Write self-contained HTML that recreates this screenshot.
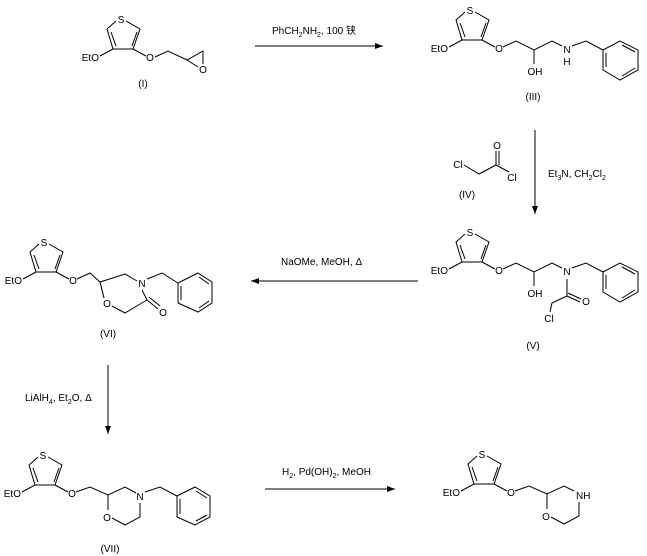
<!DOCTYPE html>
<html><head><style>
html,body{margin:0;padding:0;background:#fff;}
svg{display:block;}
text{font-family:"Liberation Sans","Noto Sans CJK SC",sans-serif;font-size:10px;fill:#000;}
line,polyline,path{stroke:#000;stroke-width:1;fill:none;}
</style></head><body>
<svg width="647" height="556" viewBox="0 0 647 556" xmlns="http://www.w3.org/2000/svg">
<defs>
<g id="th">
<text x="470" y="14" text-anchor="middle">S</text>
<polyline points="465,12 456,20 462,40 482,40 489,20 475,12"/>
<line x1="460" y1="23" x2="465" y2="37"/>
<line x1="486" y1="23" x2="481" y2="37"/>
<line x1="462" y1="40" x2="449" y2="47"/>
<line x1="482" y1="40" x2="495" y2="47"/>
<text x="448" y="52" text-anchor="end">EtO</text>
<text x="499" y="52" text-anchor="middle">O</text>
</g>
<marker id="ah" markerWidth="8" markerHeight="6" refX="8" refY="3" orient="auto" markerUnits="userSpaceOnUse"><path d="M0,0 L8,3 L0,6 z" style="fill:#000;stroke:none"/></marker>
</defs>

<!-- I -->
<use href="#th" transform="translate(-349,9)"/>
<polyline points="155,57 168,51 187,60 203,51 203,64"/>
<line x1="187" y1="60" x2="198" y2="67"/>
<text x="203" y="73" text-anchor="middle">O</text>
<text x="143" y="87" text-anchor="middle">(I)</text>

<!-- arrow 1 -->
<text x="272" y="34">PhCH<tspan font-size="7" dy="3">2</tspan><tspan dy="-3">NH</tspan><tspan font-size="7" dy="3">2</tspan><tspan dy="-3">, 100 铗</tspan></text>
<line x1="255" y1="46" x2="383" y2="46" marker-end="url(#ah)"/>

<!-- III -->
<use href="#th"/>
<polyline points="503,47 516,41 534,50 552,41 562,46"/>
<text x="567" y="53" text-anchor="middle">N</text>
<text x="567" y="65" text-anchor="middle">H</text>
<line x1="534" y1="50" x2="534" y2="64"/>
<text x="535" y="75" text-anchor="middle">OH</text>
<polyline points="572,46 586,41 603,50"/>
<polygon points="603,50 620,41 638,50 638,70 620,80 603,70" style="fill:none;stroke:#000"/>
<line x1="606" y1="53" x2="606" y2="67"/>
<line x1="622" y1="45" x2="635" y2="52"/>
<line x1="635" y1="68" x2="622" y2="76"/>
<text x="533" y="100" text-anchor="middle">(III)</text>

<!-- IV -->
<text x="458" y="168" text-anchor="middle">Cl</text>
<polyline points="464,165 479,174 496,165 509,172"/>
<line x1="496" y1="165" x2="496" y2="151"/>
<line x1="499" y1="165" x2="499" y2="151"/>
<text x="497" y="149" text-anchor="middle">O</text>
<text x="512" y="181" text-anchor="middle">Cl</text>
<text x="467" y="198" text-anchor="middle">(IV)</text>
<line x1="535" y1="130" x2="535" y2="214" marker-end="url(#ah)"/>
<text x="548" y="177">Et<tspan font-size="7" dy="3">3</tspan><tspan dy="-3">N, CH</tspan><tspan font-size="7" dy="3">2</tspan><tspan dy="-3">Cl</tspan><tspan font-size="7" dy="3">2</tspan></text>

<!-- V -->
<use href="#th" transform="translate(0,222)"/>
<polyline points="503,269 516,263 534,272 552,263 562,268"/>
<text x="567" y="275" text-anchor="middle">N</text>
<line x1="534" y1="272" x2="534" y2="286"/>
<text x="535" y="297" text-anchor="middle">OH</text>
<polyline points="572,268 586,263 603,272"/>
<polygon points="603,272 620,263 638,272 638,292 620,302 603,292" style="fill:none;stroke:#000"/>
<line x1="606" y1="275" x2="606" y2="289"/>
<line x1="622" y1="267" x2="635" y2="274"/>
<line x1="635" y1="290" x2="622" y2="298"/>
<line x1="567" y1="279" x2="567" y2="296"/>
<line x1="567" y1="296" x2="580" y2="302"/>
<line x1="568" y1="293" x2="581" y2="299"/>
<text x="586" y="305" text-anchor="middle">O</text>
<polyline points="567,296 552,303 550,312"/>
<text x="549" y="322" text-anchor="middle">Cl</text>
<text x="533" y="349" text-anchor="middle">(V)</text>

<!-- arrow V->VI -->
<text x="281" y="265">NaOMe, MeOH, Δ</text>
<line x1="418" y1="281" x2="251" y2="281" marker-end="url(#ah)"/>

<!-- VI -->
<use href="#th" transform="translate(-426,232)"/>
<polyline points="77,279 90,273 100,282 125,274 137,281"/>
<text x="142" y="287" text-anchor="middle">N</text>
<line x1="142" y1="290" x2="147" y2="300"/>
<line x1="147" y1="300" x2="158" y2="309"/>
<line x1="149" y1="297" x2="160" y2="306"/>
<text x="163" y="316" text-anchor="middle">O</text>
<polyline points="147,300 125,313 112,306"/>
<text x="107" y="307" text-anchor="middle">O</text>
<line x1="104" y1="298" x2="100" y2="282"/>
<polyline points="147,279 162,273 178,283"/>
<polygon points="178,283 198,273 212,282 212,303 198,312 178,303" style="fill:none;stroke:#000"/>
<line x1="181" y1="286" x2="181" y2="300"/>
<line x1="199" y1="277" x2="209" y2="284"/>
<line x1="209" y1="301" x2="199" y2="308"/>
<text x="108" y="337" text-anchor="middle">(VI)</text>

<!-- arrow VI->VII -->
<line x1="108" y1="365" x2="108" y2="434" marker-end="url(#ah)"/>
<text x="25" y="401">LiAlH<tspan font-size="7" dy="3">4</tspan><tspan dy="-3">, Et</tspan><tspan font-size="7" dy="3">2</tspan><tspan dy="-3">O, Δ</tspan></text>

<!-- VII -->
<use href="#th" transform="translate(-427,445)"/>
<polyline points="76,492 90,487 108,495 125,487 136,493"/>
<text x="140" y="500" text-anchor="middle">N</text>
<polyline points="140,503 140,517 125,525 112,518"/>
<text x="107" y="521" text-anchor="middle">O</text>
<line x1="108" y1="510" x2="108" y2="495"/>
<polyline points="145,492 160,487 177,496"/>
<polygon points="177,496 195,487 210,496 210,517 195,525 177,517" style="fill:none;stroke:#000"/>
<line x1="180" y1="499" x2="180" y2="514"/>
<line x1="196" y1="491" x2="207" y2="498"/>
<line x1="207" y1="515" x2="196" y2="521"/>
<text x="110" y="552" text-anchor="middle">(VII)</text>

<!-- arrow VII->final -->
<text x="282" y="475">H<tspan font-size="7" dy="3">2</tspan><tspan dy="-3">, Pd(OH)</tspan><tspan font-size="7" dy="3">2</tspan><tspan dy="-3">, MeOH</tspan></text>
<line x1="265" y1="489" x2="395" y2="489" marker-end="url(#ah)"/>

<!-- final -->
<use href="#th" transform="translate(12,444)"/>
<polyline points="515,491 529,486 547,494 564,486 574,491"/>
<text x="576" y="499">NH</text>
<polyline points="579,502 579,516 564,524 551,517"/>
<text x="546" y="520" text-anchor="middle">O</text>
<line x1="547" y1="509" x2="547" y2="494"/>
</svg>
</body></html>
